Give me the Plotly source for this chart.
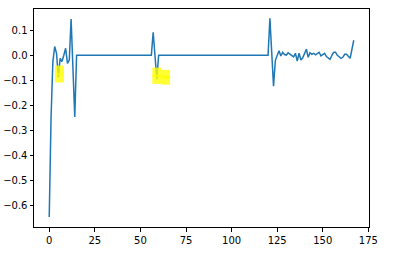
import plotly.graph_objects as go

# series values (x = 0..167)
head = [-0.645, -0.25, -0.025, 0.035, 0.008, -0.088, -0.012, -0.025, 0.0, 0.028,
        -0.032, -0.019, 0.145, -0.05, -0.246, 0.0]            # x 0..15
flat1 = [0.0] * (56 - 16)                                       # x 16..55
mid = [0.0, 0.092, 0.0, -0.095, 0.0]                            # x 56..60
flat2 = [0.0] * (120 - 61)                                      # x 61..119
tail = [0.0, 0.147, 0.01, -0.123, -0.02, 0.0, 0.018, -0.003, 0.012, 0.003,
        0.001, 0.01, 0.005, 0.0, -0.006, 0.008, -0.023, 0.008, -0.019, -0.01,
        0.006, 0.024, -0.008, 0.01, 0.004, 0.008, 0.002, 0.008, 0.012, -0.002,
        0.005, 0.008, -0.005, -0.01, -0.016, 0.0, 0.012, 0.012, 0.0, -0.006,
        -0.012, -0.008, 0.004, 0.004, -0.005, -0.012, 0.024, 0.06]  # x 120..167
y_vals = head + flat1 + mid + flat2 + tail
x_vals = list(range(len(y_vals)))

# highlighted anomaly markers
anom_x = [5.6, 5.6, 59.0, 59.0, 63.8, 63.8]
anom_y = [-0.059, -0.09, -0.067, -0.096, -0.076, -0.099]

x_ticks = [0, 25, 50, 75, 100, 125, 150, 175]
y_ticks = [0.1, 0.0, -0.1, -0.2, -0.3, -0.4, -0.5, -0.6]
y_labels = ["0.1", "0.0", "\u22120.1", "\u22120.2", "\u22120.3", "\u22120.4", "\u22120.5", "\u22120.6"]

fig = go.Figure()
fig.add_trace(go.Scatter(x=x_vals, y=y_vals, mode="lines",
                         line=dict(color="#1f77b4", width=1.5), showlegend=False,
                         hoverinfo="skip"))
fig.add_trace(go.Scatter(x=anom_x, y=anom_y, mode="markers",
                         marker=dict(symbol="square", size=9, color="#ffff00",
                                     opacity=0.8, line=dict(width=0)),
                         showlegend=False, hoverinfo="skip"))

axis_common = dict(showgrid=False, zeroline=False, showline=True, linecolor="black",
                   linewidth=1, mirror=True, ticks="outside", ticklen=3.5,
                   tickwidth=0.8, tickcolor="black", automargin=False,
                   tickfont=dict(family="DejaVu Sans", size=10, color="black"))

fig.update_layout(
    width=394, height=258,
    margin=dict(l=34, r=25, t=9, b=31),
    paper_bgcolor="white", plot_bgcolor="white",
    xaxis=dict(range=[-8.35, 175.35], tickvals=x_ticks,
               ticktext=[str(v) for v in x_ticks], **axis_common),
    yaxis=dict(range=[-0.6845, 0.1845], tickvals=y_ticks, ticktext=y_labels,
               **axis_common),
)
fig.write_html("out.html")
